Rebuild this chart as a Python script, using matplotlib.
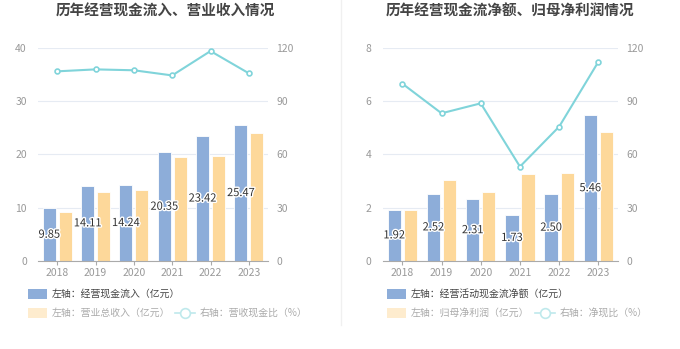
import matplotlib.pyplot as plt
import matplotlib.patheffects as pe
from matplotlib.patches import Rectangle
from matplotlib.lines import Line2D
import numpy as np

plt.rcParams['font.family'] = ['Noto Sans CJK SC', 'DejaVu Sans']

years = ['2018', '2019', '2020', '2021', '2022', '2023']

# left chart
cash_in = [9.85, 14.11, 14.24, 20.35, 23.42, 25.47]
revenue = [9.19, 13.0, 13.25, 19.44, 19.75, 24.0]
cash_ratio = [106.7, 107.8, 107.3, 104.4, 118.1, 105.6]

# right chart
net_cash = [1.92, 2.52, 2.31, 1.73, 2.50, 5.46]
net_profit = [1.91, 3.03, 2.59, 3.25, 3.30, 4.85]
net_ratio = [99.8, 83.1, 88.7, 53.1, 75.6, 112.1]

BLUE = '#8dadd9'
ORANGE = '#fdd89a'
CYAN = '#80d4da'
GRID = '#e6ebf3'
TICK = '#999999'

W, H = 680, 349
fig = plt.figure(figsize=(6.8, 3.49), dpi=100)


def px(x0, y0, x1, y1):
    return [x0 / W, 1 - y1 / H, (x1 - x0) / W, (y1 - y0) / H]


def panel(rect, title, title_x, blue, orange, line, ymax, yticks, legend_x, names):
    ax = fig.add_axes(px(*rect))
    x = np.arange(len(years))
    bw = 0.34
    ax.bar(x - bw / 2 - 0.035, blue, bw, color=BLUE, edgecolor='white', linewidth=0.6, zorder=2)
    ax.bar(x + bw / 2 + 0.035, orange, bw, color=ORANGE, edgecolor='white', linewidth=0.6, zorder=2)
    for xi, v in zip(x, blue):
        ax.text(xi - bw / 2 - 0.035, v / 2, f'{v:.2f}', ha='center', va='center', fontsize=8,
                color='#333333', zorder=5,
                path_effects=[pe.withStroke(linewidth=2, foreground='white')])
    ax.set_xlim(-0.5, len(years) - 0.5)
    ax.set_ylim(0, ymax)
    ax.set_yticks(yticks)
    ax.set_xticks(x)
    ax.set_xticklabels(years)
    ax.grid(axis='y', color=GRID, linewidth=0.8, zorder=0)
    ax.set_axisbelow(True)
    for s in ['top', 'right', 'left']:
        ax.spines[s].set_visible(False)
    ax.spines['bottom'].set_color('#aaaaaa')
    ax.tick_params(axis='y', length=0, labelsize=7.5, labelcolor=TICK, pad=8)
    ax.tick_params(axis='x', length=3, color='#aaaaaa', labelsize=7.5, labelcolor=TICK, pad=2)

    ax2 = ax.twinx()
    ax2.set_ylim(0, 120)
    ax2.set_yticks([0, 30, 60, 90, 120])
    ax2.plot(x, line, color=CYAN, lw=1.5, marker='o', ms=3.5, mfc='white', mec=CYAN, mew=1.2, zorder=4)
    for s in ['top', 'right', 'left', 'bottom']:
        ax2.spines[s].set_visible(False)
    ax2.tick_params(axis='y', length=0, labelsize=7.5, labelcolor=TICK, pad=6)

    fig.text(title_x / W, 1 - 11 / H, title, ha='center', va='center', fontsize=10.5,
             fontweight='bold', color='#454545')

    # legend
    lx = legend_x
    fig.patches.append(Rectangle((lx / W, 1 - 299 / H), 19 / W, 10 / H, transform=fig.transFigure,
                                 facecolor=BLUE, edgecolor='none'))
    fig.text((lx + 24) / W, 1 - 294 / H, names[0], ha='left', va='center', fontsize=7.1, color='#444444')
    fig.patches.append(Rectangle((lx / W, 1 - 318 / H), 19 / W, 10 / H, transform=fig.transFigure,
                                 facecolor='#feecce', edgecolor='none'))
    fig.text((lx + 24) / W, 1 - 313 / H, names[1], ha='left', va='center', fontsize=7.1, color='#aaaaaa')
    l2 = lx + names[3]
    fig.lines.append(Line2D([l2 / W, (l2 + 20) / W], [1 - 313 / H, 1 - 313 / H], transform=fig.transFigure,
                            color='#bfe9ec', lw=1.2))
    fig.lines.append(Line2D([(l2 + 10) / W], [1 - 313 / H], transform=fig.transFigure,
                            color='#bfe9ec', marker='o', ms=7, mfc='white', mec='#bfe9ec', mew=1.2))
    fig.text((l2 + 25) / W, 1 - 313 / H, names[2], ha='left', va='center', fontsize=7.1, color='#aaaaaa')


panel((38, 47.7, 268, 261), '历年经营现金流入、营业收入情况', 165, cash_in, revenue, cash_ratio,
      40, [0, 10, 20, 30, 40], 28,
      ['左轴：经营现金流入（亿元）', '左轴：营业总收入（亿元）', '右轴：营收现金比（%）', 147])
panel((382.7, 47.7, 618, 261), '历年经营现金流净额、归母净利润情况', 510, net_cash, net_profit, net_ratio,
      8, [0, 2, 4, 6, 8], 387,
      ['左轴：经营活动现金流净额（亿元）', '左轴：归母净利润（亿元）', '右轴：净现比（%）', 148])

fig.lines.append(Line2D([341 / W, 341 / W], [1 - 325 / H, 1], transform=fig.transFigure,
                        color='#f0f0f0', lw=1))

fig.savefig('out.png', dpi=100)
